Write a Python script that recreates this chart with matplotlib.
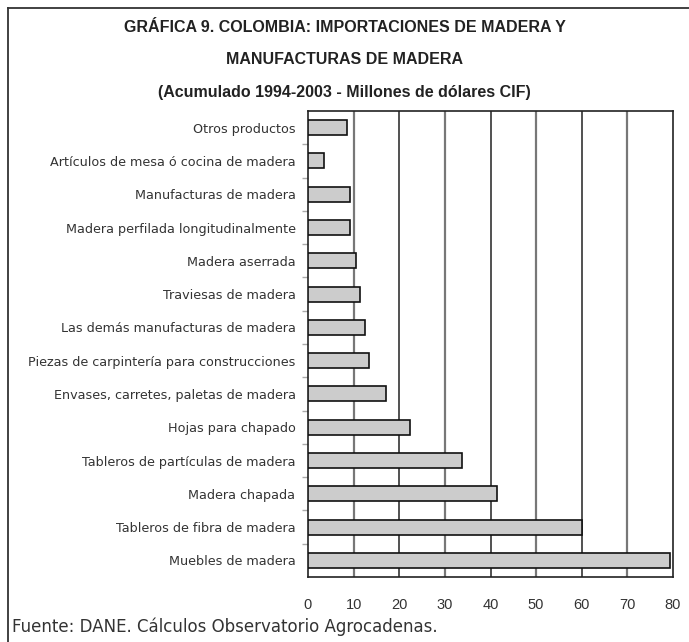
import matplotlib
matplotlib.use('Agg')
import matplotlib.pyplot as plt
from matplotlib import font_manager
from matplotlib.lines import Line2D

# Data (millones de dólares CIF, acumulado 1994-2003), top to bottom as in the chart
categorias = [
    'Otros productos',
    'Artículos de mesa ó cocina de madera',
    'Manufacturas de madera',
    'Madera perfilada longitudinalmente',
    'Madera aserrada',
    'Traviesas de madera',
    'Las demás manufacturas de madera',
    'Piezas de carpintería para construcciones',
    'Envases, carretes, paletas de madera',
    'Hojas para chapado',
    'Tableros de partículas de madera',
    'Madera chapada',
    'Tableros de fibra de madera',
    'Muebles de madera',
]
valores = [8.6, 3.5, 9.2, 9.1, 10.5, 11.5, 12.4, 13.4, 17.0, 22.4, 33.7, 41.4, 60.0, 79.3]
x_ticks = [0, 10, 20, 30, 40, 50, 60, 70, 80]

titulo = ['GRÁFICA 9. COLOMBIA: IMPORTACIONES DE MADERA Y',
          'MANUFACTURAS DE MADERA',
          '(Acumulado 1994-2003 - Millones de dólares CIF)']
fuente = 'Fuente: DANE. Cálculos Observatorio Agrocadenas.'

available = {f.name for f in font_manager.fontManager.ttflist}
narrow = 'Liberation Sans Narrow' if 'Liberation Sans Narrow' in available else 'Liberation Sans'
plt.rcParams['font.family'] = ['Liberation Sans', 'DejaVu Sans']

W, H = 689, 642
fig = plt.figure(figsize=(W / 100, H / 100), dpi=100)

# outer frame (left and top edges visible)
fig.add_artist(Line2D([8 / W, 8 / W], [0, 1 - 8 / H], color='#333333', lw=1.3))
fig.add_artist(Line2D([8 / W, 1], [1 - 8 / H, 1 - 8 / H], color='#333333', lw=1.3))

ax = fig.add_axes([308 / W, 1 - 577 / H, (673 - 308) / W, (577 - 111) / H])

y = list(range(len(categorias)))
ax.barh(y, valores, height=0.45, color='#cccccc', edgecolor='#111111', linewidth=1.2, zorder=3)

ax.set_xlim(0, 80)
ax.set_ylim(len(categorias) - 0.5, -0.5)

for i, t in enumerate(x_ticks[1:-1]):
    ax.axvline(t, color='#777777' if i % 2 == 0 else '#222222',
               lw=1.6 if i % 2 == 0 else 1.1, zorder=1)

ax.set_xticks(x_ticks)
ax.set_xticklabels([str(t) for t in x_ticks], fontsize=10.5, color='#333333')
ax.tick_params(axis='x', length=0, pad=15)

ax.set_yticks(y)
ax.set_yticklabels(categorias, fontsize=9.2, color='#333333', family='DejaVu Sans')
ax.tick_params(axis='y', length=0, pad=9)
ax.set_yticks([i + 0.5 for i in y[:-1]], minor=True)
ax.tick_params(axis='y', which='minor', length=4, color='#aaaaaa', width=1)

for s in ax.spines.values():
    s.set_color('#222222')
    s.set_linewidth(1.2)

for k, line in enumerate(titulo):
    fig.text(0.5, 1 - (28 + 32 * k) / H, line, ha='center', va='center',
             fontsize=11.5, fontweight='bold', family=narrow, color='#222222')

fig.text(12 / W, 1 - 627 / H, fuente, ha='left', va='center', fontsize=12,
         color='#333333', family='DejaVu Sans')

fig.savefig('out.png', dpi=100)
